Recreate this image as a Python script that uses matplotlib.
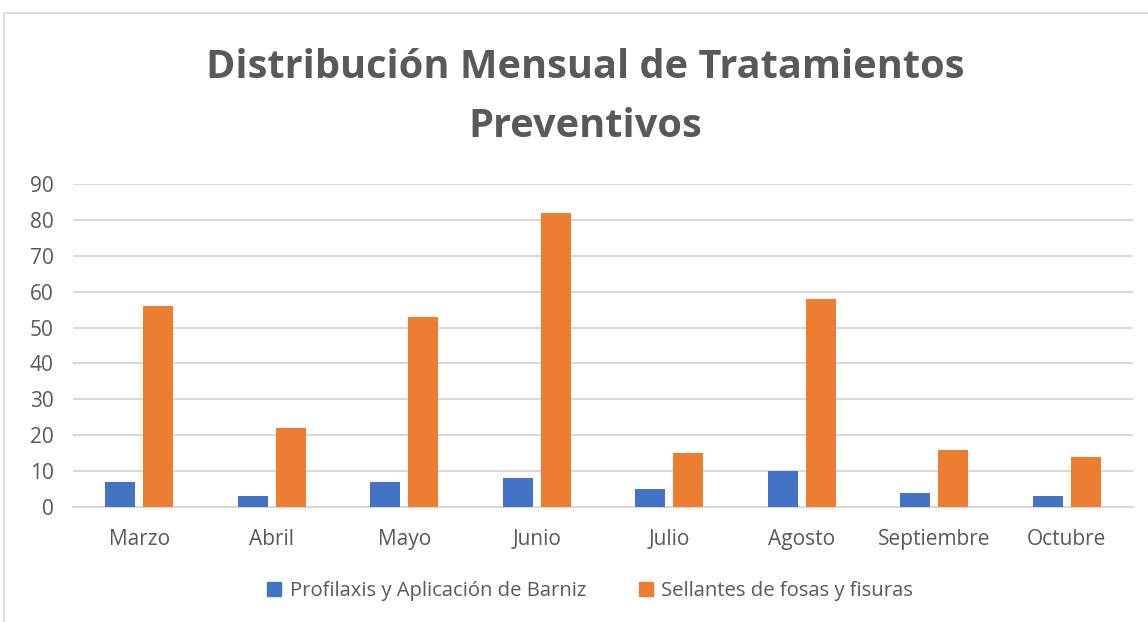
import matplotlib
matplotlib.use("Agg")
import matplotlib.pyplot as plt
from matplotlib.patches import Rectangle, Patch
import numpy as np

months = ["Marzo", "Abril", "Mayo", "Junio", "Julio", "Agosto", "Septiembre", "Octubre"]
profilaxis = [7, 3, 7, 8, 5, 10, 4, 3]
sellantes = [56, 22, 53, 82, 15, 58, 16, 14]
series_names = ["Profilaxis y Aplicación de Barniz", "Sellantes de fosas y fisuras"]
yticks = [0, 10, 20, 30, 40, 50, 60, 70, 80, 90]
title = "Distribución Mensual de Tratamientos\nPreventivos"

W, H = 1148, 622
fig = plt.figure(figsize=(W / 100, H / 100), dpi=100)
fig.patch.set_facecolor("white")

# chart frame
fig.patches.append(Rectangle((4 / W, -0.1), 1.2, 1 - 13 / H + 0.1, transform=fig.transFigure,
                             fill=False, edgecolor="#d9d9d9", linewidth=1.2))

ax = fig.add_axes([73 / W, 1 - 507 / H, (1133 - 73) / W, (507 - 184) / H])
x = np.arange(len(months))
bw = 0.226
off = 0.143
blue = "#4472c4"
orange = "#ed7d31"
ax.bar(x - off, profilaxis, bw, color=blue, zorder=3)
ax.bar(x + off, sellantes, bw, color=orange, zorder=3)

ax.set_xlim(-0.5, len(months) - 0.5)
ax.set_ylim(0, 90)
ax.set_yticks(yticks)
ax.set_xticks(x)
ax.set_xticklabels(months)
ax.grid(axis="y", color="#d9d9d9", linewidth=1.5, zorder=0)
for s in ["top", "right", "left"]:
    ax.spines[s].set_visible(False)
ax.spines["bottom"].set_color("#d9d9d9")
ax.spines["bottom"].set_linewidth(1.5)
ax.tick_params(length=0, labelsize=15, labelcolor="#595959")
ax.tick_params(axis="y", pad=14)
ax.tick_params(axis="x", pad=16)
for lab in ax.get_yticklabels() + ax.get_xticklabels():
    lab.set_fontfamily("Open Sans")

fig.text(585 / W, 1 - 97 / H, title, ha="center", va="center", fontsize=28.6, fontweight="bold",
         color="#595959", fontfamily="Open Sans", linespacing=1.68)

handles = [Patch(color=blue), Patch(color=orange)]
fig.legend(handles, series_names, loc="center", bbox_to_anchor=(590 / W, 1 - 591 / H), ncol=2,
           frameon=False, prop={"family": "Open Sans", "size": 14.6}, labelcolor="#595959",
           handlelength=0.7, handleheight=0.7, handletextpad=0.4, columnspacing=2.6)

fig.savefig("out.png", dpi=100, facecolor="white")
